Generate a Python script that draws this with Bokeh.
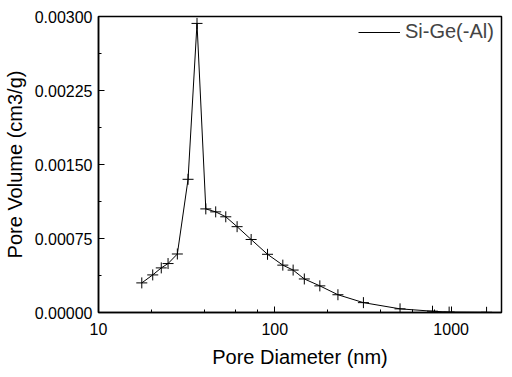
from bokeh.plotting import figure
from bokeh.models import Range1d, FixedTicker, PrintfTickFormatter, Legend, LegendItem
from bokeh.embed import file_html
from bokeh.resources import INLINE

# Data
diameter_nm = [17.6, 20.3, 22.7, 24.8, 28.0, 32.2, 36.2, 40.6, 46.2, 52.7, 61.1, 73.4,
               90.9, 111, 127, 147, 180, 228, 318, 513, 784, 974, 1588]
pore_volume = [0.00030, 0.000381, 0.000452, 0.000496, 0.000593, 0.00135, 0.00293,
               0.00105, 0.00102, 0.00097, 0.00087, 0.00074, 0.00059, 0.00048, 0.00043,
               0.00034, 0.00027, 0.00018, 0.00010, 0.000037, 0.000013, 0.000004, 0.000002]
series_name = "Si-Ge(-Al)"

x_major = [10, 100, 1000]
x_minor = [20, 40, 60, 80, 200, 400, 600, 800]
y_major = [0.0, 0.00075, 0.0015, 0.00225, 0.003]
y_minor = [0.000375, 0.001125, 0.001875, 0.002625]

FONT = "Liberation Sans"

p = figure(width=506, height=372, x_axis_type="log",
           x_range=Range1d(10, 1930), y_range=Range1d(0, 0.003),
           output_backend="svg", toolbar_location=None,
           min_border_left=98, min_border_right=5, min_border_top=16, min_border_bottom=60)

p.xgrid.visible = False
p.ygrid.visible = False
p.outline_line_color = "black"
p.outline_line_width = 1.5
p.background_fill_color = "white"
p.border_fill_color = "white"

line_r = p.line(diameter_nm, pore_volume, line_color="black", line_width=1)
p.scatter(diameter_nm, pore_volume, marker="cross", size=11, line_color="black", line_width=1)

for ax in (p.xaxis[0], p.yaxis[0]):
    ax.axis_line_color = "black"
    ax.axis_line_width = 1.5
    ax.major_tick_in = 6
    ax.major_tick_out = 0
    ax.minor_tick_in = 3
    ax.minor_tick_out = 0
    ax.major_tick_line_color = "black"
    ax.minor_tick_line_color = "black"
    ax.major_label_text_font = FONT
    ax.major_label_text_font_size = "16px"
    ax.major_label_text_color = "black"
    ax.axis_label_text_font = FONT
    ax.axis_label_text_font_size = "20px"
    ax.axis_label_text_font_style = "normal"
    ax.axis_label_text_color = "black"

p.xaxis[0].ticker = FixedTicker(ticks=x_major, minor_ticks=x_minor)
p.xaxis[0].formatter = PrintfTickFormatter(format="%d")
p.xaxis[0].axis_label = "Pore Diameter (nm)"
p.xaxis[0].major_label_standoff = 10
p.xaxis[0].axis_label_standoff = 8

p.yaxis[0].ticker = FixedTicker(ticks=y_major, minor_ticks=y_minor)
p.yaxis[0].formatter = PrintfTickFormatter(format="%.5f")
p.yaxis[0].axis_label = "Pore Volume (cm3/g)"
p.yaxis[0].major_label_standoff = 6
p.yaxis[0].axis_label_standoff = 6

legend = Legend(items=[LegendItem(label=series_name, renderers=[line_r])],
                location=(260, 269), border_line_color=None,
                background_fill_alpha=0, margin=0, padding=2,
                glyph_width=42, glyph_height=20, label_height=20, label_standoff=5,
                label_text_font=FONT, label_text_font_size="20px")
p.add_layout(legend)

open("out.html", "w").write(file_html(p, INLINE))
